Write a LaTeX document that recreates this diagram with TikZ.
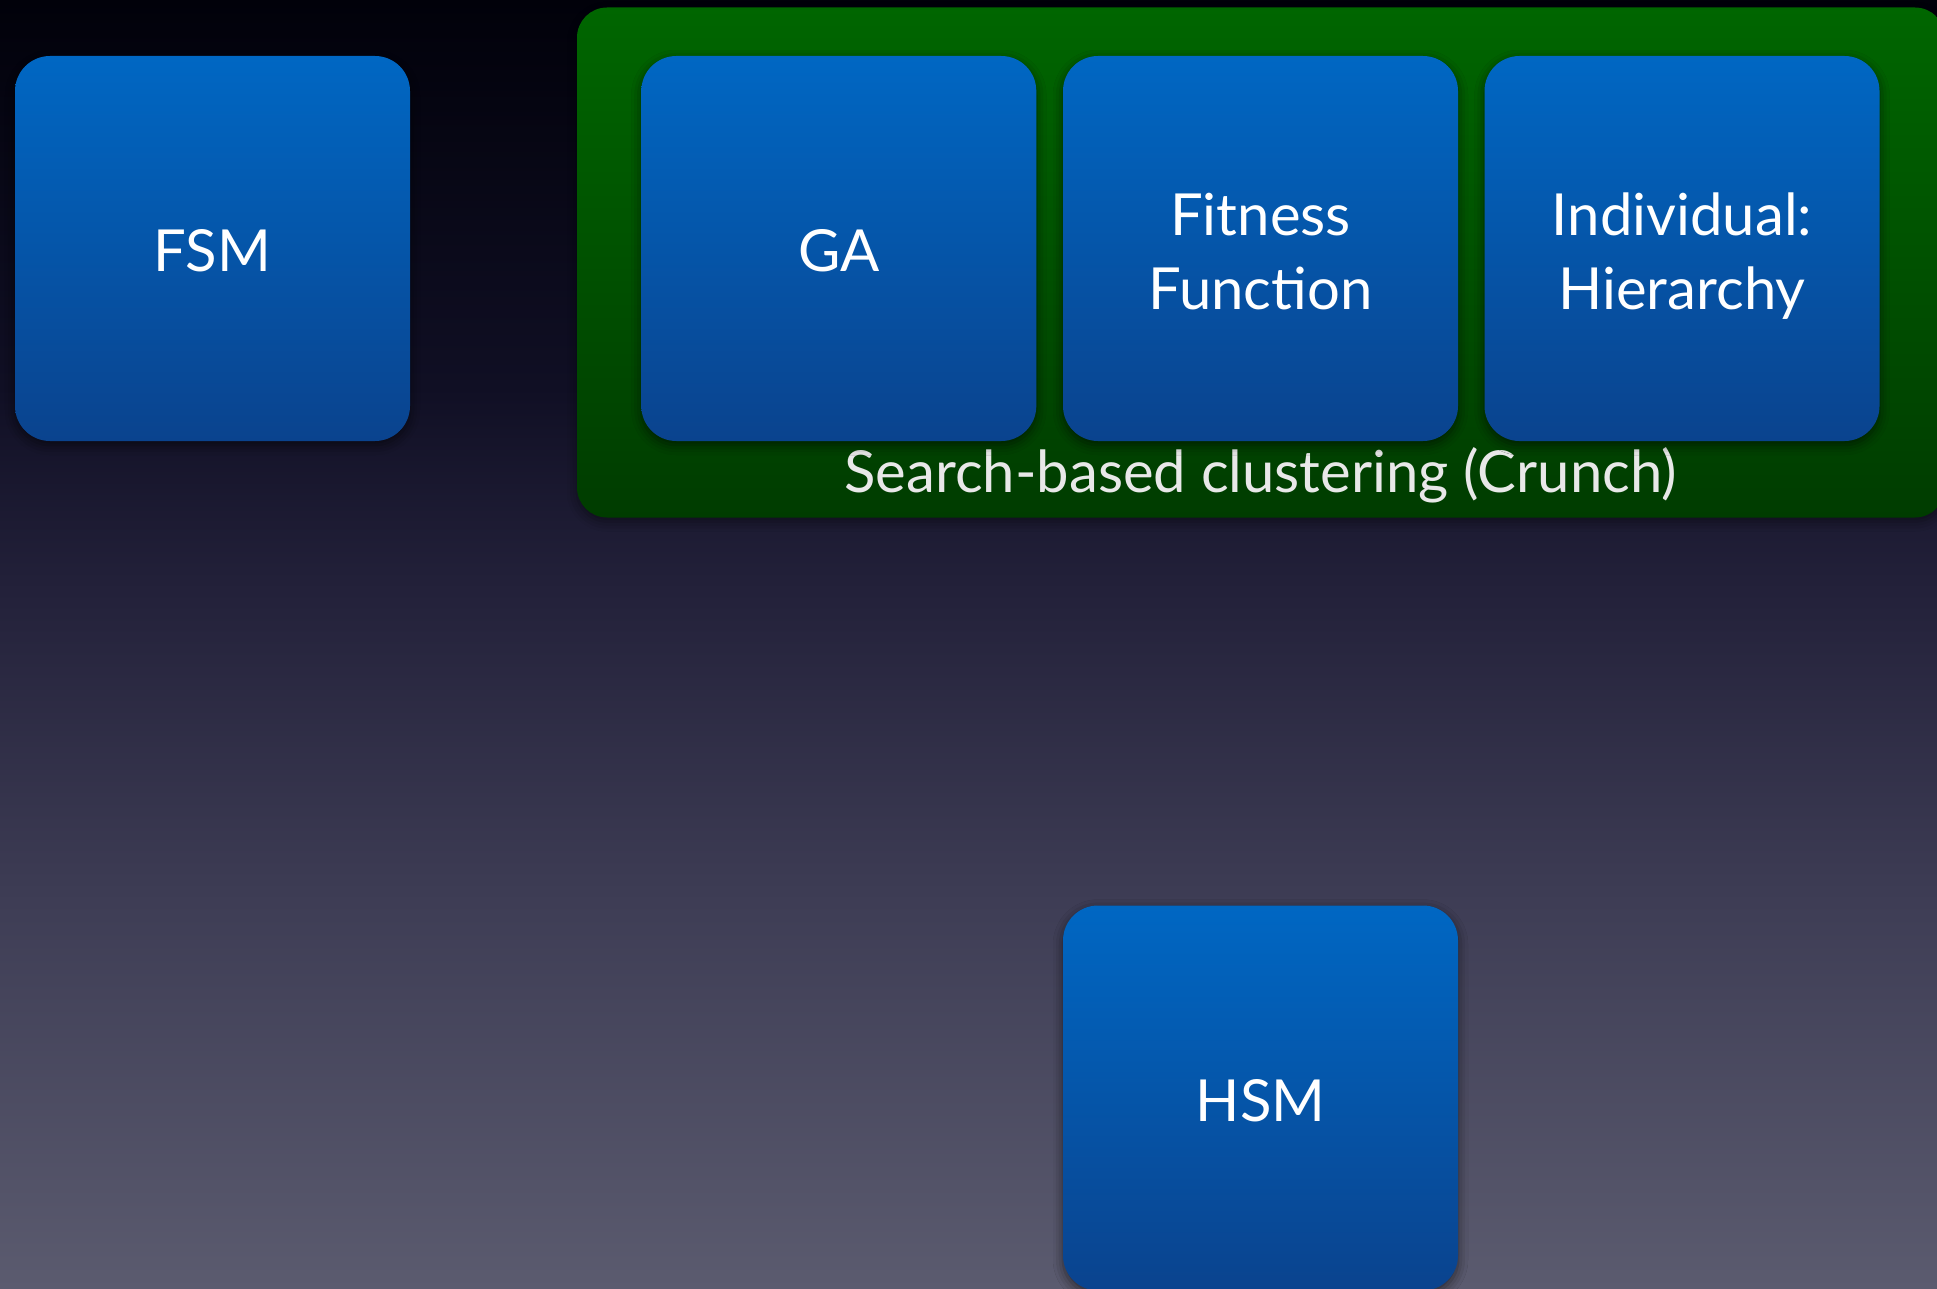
\documentclass[tikz,border=0pt]{standalone}
\usepackage{fontspec}
\setmainfont{Lato}
\usetikzlibrary{shadows.blur}

\definecolor{boxtop}{HTML}{0067C3}
\definecolor{boxbot}{HTML}{0A438E}
\definecolor{grntop}{HTML}{006600}
\definecolor{grnbot}{HTML}{003C00}
\definecolor{labelgrey}{HTML}{E8E8E8}
\definecolor{bgtop}{HTML}{01010A}
\definecolor{bgq}{HTML}{100F24}
\definecolor{bgmid}{HTML}{222039}
\definecolor{bglow}{HTML}{3E3D55}
\definecolor{bgbot}{HTML}{5B5B6F}

% backdrop: dark at the top, grey-violet at the bottom
% (the filled path spans 25bp..75bp of the shading)
\pgfdeclareverticalshading{backdrop}{100bp}{
  color(0bp)=(bgbot); color(25bp)=(bgbot); color(40bp)=(bglow);
  color(52.5bp)=(bgmid); color(60bp)=(bgq); color(75bp)=(bgtop);
  color(100bp)=(bgtop)}

% line strut: keeps every block's lines at the same baselines
\newcommand\ls{\rule[-13pt]{0pt}{73pt}}

\tikzset{
  blockbox/.style={rectangle, rounded corners=35pt, inner sep=0pt,
    minimum width=395pt, minimum height=385pt,
    top color=boxtop, bottom color=boxbot, text=white, align=center,
    font=\fontsize{58}{74}\selectfont,
    blur shadow={shadow xshift=0pt, shadow yshift=-4pt,
      shadow blur radius=10pt, shadow opacity=55}},
  groupbox/.style={rectangle, rounded corners=30pt, inner sep=0pt,
    top color=grntop, bottom color=grnbot,
    blur shadow={shadow xshift=0pt, shadow yshift=-4pt,
      shadow blur radius=10pt, shadow opacity=45}},
  grouplabel/.style={anchor=base, text=labelgrey, inner sep=0pt,
    font=\fontsize{58}{70}\selectfont},
}

\begin{document}
\begin{tikzpicture}[x=1pt, y=-1pt]
  \useasboundingbox (0,0) rectangle (1937,1289);
  \shade[shading=backdrop] (0,0) rectangle (1937,1289);

  % search-based clustering group
  \node[groupbox, minimum width=1368pt, minimum height=510pt]
    (crunch) at (1261,262.5) {};
  \node[grouplabel] (crunchlabel) at (1260.5,492)
    {Search-based clustering (Crunch)};

  % blocks
  \node[blockbox] (fsm) at (212.5,248.5) {\ls FSM};
  \node[blockbox] (ga)  at (838.8,248.5) {\ls GA};
  \node[blockbox] (fit) at (1260.5,248.5) {\ls Fitness\\\ls Function};
  \node[blockbox] (ind) at (1682,248.5) {\ls Individual:\\\ls Hierarchy};
  \node[blockbox] (hsm) at (1260.5,1098) {\ls HSM};
\end{tikzpicture}
\end{document}
